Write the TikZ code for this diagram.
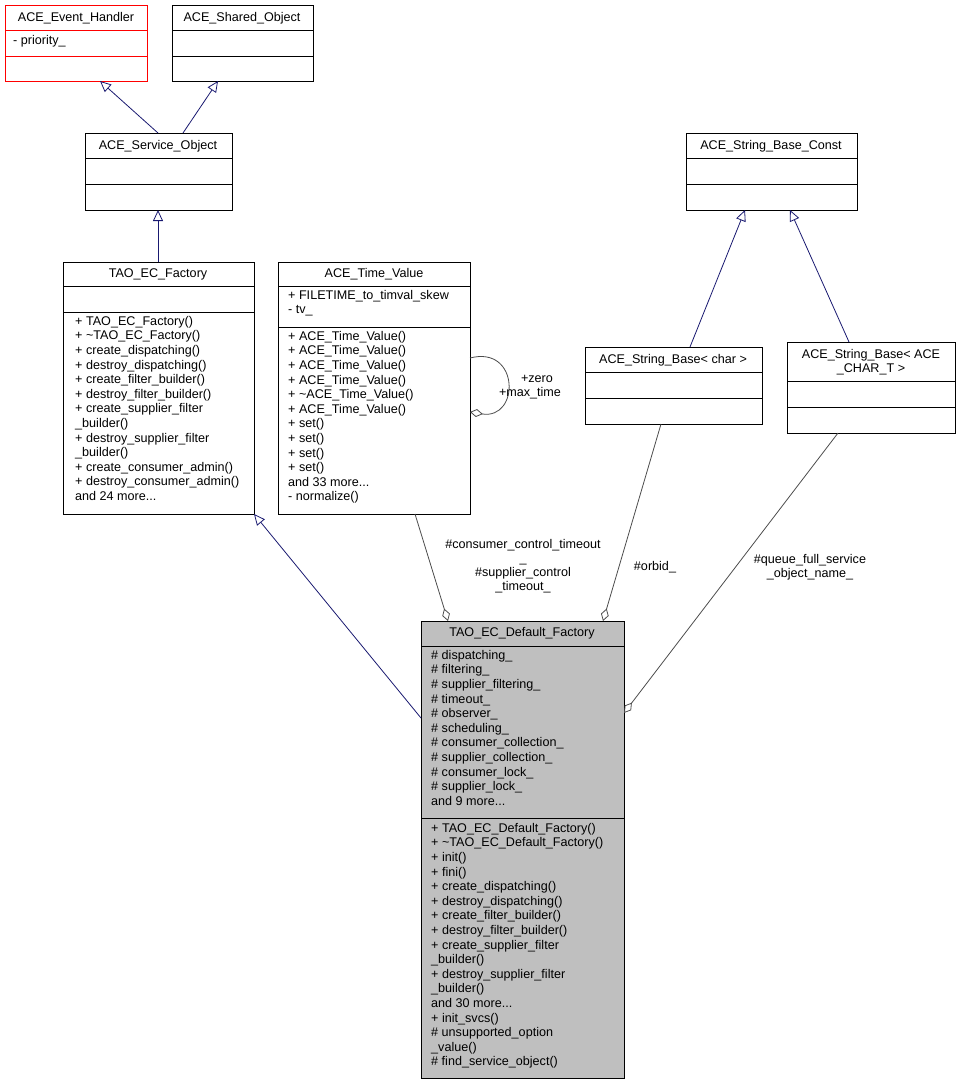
\documentclass[tikz,border=0pt]{standalone}
\usepackage{fontspec}
\setmainfont{Liberation Sans}
\usetikzlibrary{arrows.meta}
\begin{document}
\begin{tikzpicture}[x=1pt,y=-1pt,
  box/.style={draw=black,line width=0.8pt,inner sep=0},
  txt/.style={inner sep=0,font=\fontsize{12.6}{14.6}\selectfont,align=left,anchor=north west},
  ttl/.style={inner sep=0,font=\fontsize{12.6}{14}\selectfont,align=center},
  inh/.style={draw=navy,line width=0.8pt,-{Triangle[open,length=11pt,width=10pt]}},
  agg/.style={draw=gray!60!black,line width=0.8pt,-{Diamond[open,length=13pt,width=8pt]}},
  lbl/.style={inner sep=0,font=\fontsize{12.6}{14}\selectfont,align=center}]
\definecolor{navy}{RGB}{25,25,112}
\useasboundingbox (0,0) rectangle (960,1085);
% ACE_Event_Handler
\draw[red,line width=0.8pt] (5,5) rectangle (147,81) (5,30)--(147,30) (5,56)--(147,56);
\node[ttl] at (76,18) {ACE\_Event\_Handler};
\node[txt] at (13,35) {- priority\_};
% ACE_Shared_Object
\draw[box] (172,5) rectangle (313,81) (172,30)--(313,30) (172,56)--(313,56);
\node[ttl] at (242,18) {ACE\_Shared\_Object};
% ACE_Service_Object
\draw[box] (85,133) rectangle (232,210) (85,158)--(232,158) (85,184)--(232,184);
\node[ttl] at (158,146) {ACE\_Service\_Object};
% TAO_EC_Factory
\draw[box] (63,262) rectangle (254,514) (63,286)--(254,286) (63,312)--(254,312);
\node[ttl] at (158,274) {TAO\_EC\_Factory};
\node[txt] at (75,316) {+ TAO\_EC\_Factory()\\+ \textasciitilde TAO\_EC\_Factory()\\+ create\_dispatching()\\+ destroy\_dispatching()\\+ create\_filter\_builder()\\+ destroy\_filter\_builder()\\+ create\_supplier\_filter\\\_builder()\\+ destroy\_supplier\_filter\\\_builder()\\+ create\_consumer\_admin()\\+ destroy\_consumer\_admin()\\and 24 more...};
% ACE_Time_Value
\draw[box] (278,262) rectangle (470,514) (278,286)--(470,286) (278,327)--(470,327);
\node[ttl] at (374,274) {ACE\_Time\_Value};
\node[txt] at (288,290) {+ FILETIME\_to\_timval\_skew\\- tv\_};
\node[txt] at (288,331) {+ ACE\_Time\_Value()\\+ ACE\_Time\_Value()\\+ ACE\_Time\_Value()\\+ ACE\_Time\_Value()\\+ \textasciitilde ACE\_Time\_Value()\\+ ACE\_Time\_Value()\\+ set()\\+ set()\\+ set()\\+ set()\\and 33 more...\\- normalize()};
% ACE_String_Base_Const
\draw[box] (686,133) rectangle (857,210) (686,158)--(857,158) (686,184)--(857,184);
\node[ttl] at (771,146) {ACE\_String\_Base\_Const};
% ACE_String_Base<char>
\draw[box] (585,347) rectangle (762,424) (585,372)--(762,372) (585,398)--(762,398);
\node[ttl] at (673,360) {ACE\_String\_Base< char >};
% ACE_String_Base<ACE_CHAR_T>
\draw[box] (787,342) rectangle (955,433) (787,381)--(955,381) (787,407)--(955,407);
\node[ttl] at (871,362) {ACE\_String\_Base< ACE\\\_CHAR\_T >};
% TAO_EC_Default_Factory
\draw[box,fill=gray!50] (421,621) rectangle (624,1078) (421,646)--(624,646) (421,818)--(624,818);
\node[ttl] at (522,633) {TAO\_EC\_Default\_Factory};
\node[txt] at (431,650) {\# dispatching\_\\\# filtering\_\\\# supplier\_filtering\_\\\# timeout\_\\\# observer\_\\\# scheduling\_\\\# consumer\_collection\_\\\# supplier\_collection\_\\\# consumer\_lock\_\\\# supplier\_lock\_\\and 9 more...};
\node[txt] at (431,823) {+ TAO\_EC\_Default\_Factory()\\+ \textasciitilde TAO\_EC\_Default\_Factory()\\+ init()\\+ fini()\\+ create\_dispatching()\\+ destroy\_dispatching()\\+ create\_filter\_builder()\\+ destroy\_filter\_builder()\\+ create\_supplier\_filter\\\_builder()\\+ destroy\_supplier\_filter\\\_builder()\\and 30 more...\\+ init\_svcs()\\\# unsupported\_option\\\_value()\\\# find\_service\_object()};
% inheritance
\coordinate (a1) at (158,133); \coordinate (b1) at (100,81);
\draw[inh] (a1) -- (b1);
\coordinate (a2) at (183,133); \coordinate (b2) at (218,81);
\draw[inh] (a2) -- (b2);
\coordinate (a3) at (158,262); \coordinate (b3) at (158,210);
\draw[inh] (a3) -- (b3);
\coordinate (a4) at (421,718); \coordinate (b4) at (254,514);
\draw[inh] (a4) -- (b4);
\coordinate (a5) at (690,347); \coordinate (b5) at (745,210);
\draw[inh] (a5) -- (b5);
\coordinate (a6) at (849,342); \coordinate (b6) at (790,210);
\draw[inh] (a6) -- (b6);
% aggregation
\coordinate (c1) at (415,514); \coordinate (d1) at (448,621);
\draw[agg] (c1) -- (d1);
\coordinate (c2) at (661,424); \coordinate (d2) at (603,621);
\draw[agg] (c2) -- (d2);
\coordinate (c3) at (838,433); \coordinate (d3) at (624,713);
\draw[agg] (c3) -- (d3);
\coordinate (c4) at (470,358); \coordinate (d4) at (470,412);
\draw[agg] (c4) .. controls (520,345) and (520,420) .. (d4);
\node[lbl] at (530,387) {\hspace*{14pt}+zero\\+max\_time};
\node[lbl] at (523,566) {\#consumer\_control\_timeout\\\_\\\#supplier\_control\\\_timeout\_};
\node[lbl] at (655,567) {\#orbid\_};
\node[lbl] at (810,567) {\#queue\_full\_service\\\_object\_name\_};
\end{tikzpicture}
\end{document}
